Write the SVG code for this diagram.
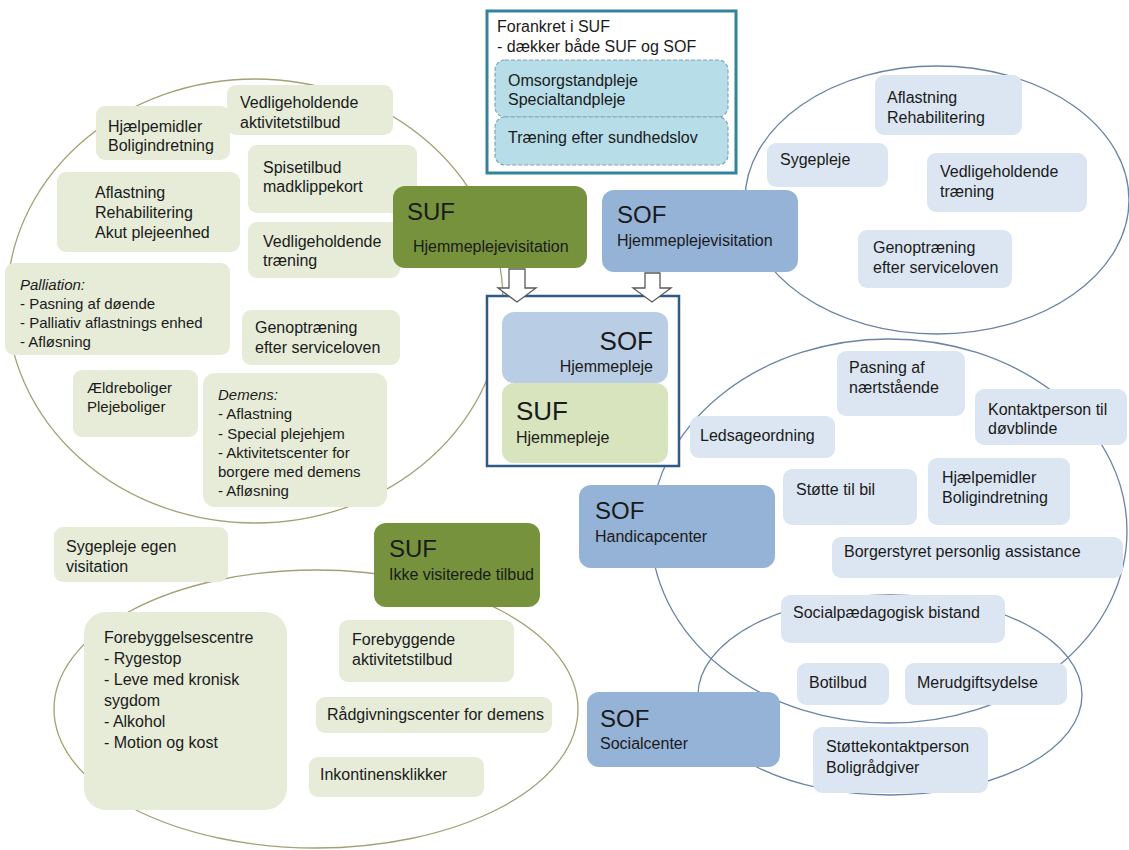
<svg xmlns="http://www.w3.org/2000/svg" width="1129" height="850" viewBox="0 0 1129 850">
<style>
text{font-family:"Liberation Sans",Arial,sans-serif;font-size:16px;fill:#1a1a1a}
.s{font-size:15px}
.big{font-size:24px}
.cbig{font-size:26px}
.g{fill:#e6ecd8}
.b{fill:#dce6f2}
.dg{fill:#76923c}
.db{fill:#95b3d7}
.eg{fill:none;stroke:#a3a175;stroke-width:1.3}
.eb{fill:none;stroke:#6a83a8;stroke-width:1.3}
.dash{fill:#b7dde8;stroke:#7fa6b5;stroke-width:1.2;stroke-dasharray:4 2}
.arr{fill:#fff;stroke:#595959;stroke-width:1.3}
</style>
<rect width="1129" height="850" fill="#fff"/>
<g id="ellipses">
<ellipse class="eg" cx="255" cy="301" rx="248" ry="222"/>
<ellipse class="eg" cx="316" cy="709" rx="262" ry="139"/>
<ellipse class="eb" cx="937" cy="200" rx="192" ry="134"/>
<ellipse class="eb" cx="889" cy="531" rx="238" ry="192"/>
<ellipse class="eb" cx="890" cy="695" rx="192" ry="100"/>
</g>
<g id="forankret">
<rect x="487" y="11" width="249" height="162" fill="#fff" stroke="#31849b" stroke-width="3"/>
<text x="497" y="32">Forankret i SUF</text>
<text x="497" y="52">- dækker både SUF og SOF</text>
<rect class="dash" x="495" y="60" width="233" height="57" rx="10"/>
<text x="508" y="86">Omsorgstandpleje</text>
<text x="508" y="105">Specialtandpleje</text>
<rect class="dash" x="495" y="117" width="233" height="48" rx="10"/>
<text x="508" y="143">Træning efter sundhedslov</text>
</g>
<g id="l1"><rect class="g" x="96" y="106" width="134" height="54" rx="9"/><text x="108" y="132">Hjælpemidler</text><text x="108" y="151">Boligindretning</text></g>
<g id="l2"><rect class="g" x="227" y="85" width="166" height="50" rx="9"/><text x="240" y="108">Vedligeholdende</text><text x="240" y="128">aktivitetstilbud</text></g>
<g id="l3"><rect class="g" x="248" y="145" width="169" height="68" rx="9"/><text x="263" y="173">Spisetilbud</text><text x="263" y="192">madklippekort</text></g>
<g id="l4"><rect class="g" x="57" y="172" width="183" height="80" rx="9"/><text x="95" y="198">Aflastning</text><text x="95" y="218">Rehabilitering</text><text x="95" y="238">Akut plejeenhed</text></g>
<g id="l5"><rect class="g" x="248" y="222" width="152" height="56" rx="9"/><text x="263" y="247">Vedligeholdende</text><text x="263" y="266">træning</text></g>
<g id="l6"><rect class="g" x="5" y="263" width="225" height="92" rx="9"/><text class="s" x="20" y="290" font-style="italic">Palliation:</text><text class="s" x="20" y="309">- Pasning af døende</text><text class="s" x="20" y="328">- Palliativ aflastnings enhed</text><text class="s" x="20" y="347">- Afløsning</text></g>
<g id="l7"><rect class="g" x="242" y="310" width="158" height="55" rx="9"/><text x="255" y="333">Genoptræning</text><text x="255" y="353">efter serviceloven</text></g>
<g id="l8"><rect class="g" x="73" y="370" width="125" height="67" rx="9"/><text class="s" x="87" y="393">Ældreboliger</text><text class="s" x="87" y="412">Plejeboliger</text></g>
<g id="l9"><rect class="g" x="203" y="373" width="184" height="134" rx="12"/><text class="s" x="218" y="400" font-style="italic">Demens:</text><text class="s" x="218" y="419">- Aflastning</text><text class="s" x="218" y="439">- Special plejehjem</text><text class="s" x="218" y="458">- Aktivitetscenter for</text><text class="s" x="218" y="477">borgere med demens</text><text class="s" x="218" y="496">- Afløsning</text></g>
<g id="suf-visitation"><rect class="dg" x="393" y="186" width="194" height="82" rx="12"/><text class="big" x="407" y="220">SUF</text><text x="413" y="252">Hjemmeplejevisitation</text></g>
<g id="sof-visitation"><rect class="db" x="602" y="190" width="196" height="82" rx="12"/><text class="big" x="617" y="223">SOF</text><text x="617" y="246">Hjemmeplejevisitation</text></g>
<g id="r1"><rect class="b" x="875" y="75" width="147" height="60" rx="9"/><text x="887" y="103">Aflastning</text><text x="887" y="123">Rehabilitering</text></g>
<g id="r2"><rect class="b" x="767" y="143" width="121" height="44" rx="9"/><text x="780" y="165">Sygepleje</text></g>
<g id="r3"><rect class="b" x="927" y="153" width="160" height="59" rx="9"/><text x="940" y="177">Vedligeholdende</text><text x="940" y="197">træning</text></g>
<g id="r4"><rect class="b" x="858" y="230" width="154" height="58" rx="9"/><text x="873" y="253">Genoptræning</text><text x="873" y="273">efter serviceloven</text></g>
<g id="hjemmepleje">
<rect x="487" y="296" width="192" height="170" fill="#fff" stroke="#2f5a88" stroke-width="2.5"/>
<rect x="502" y="312" width="166" height="71" rx="12" fill="#b9cde5"/>
<text class="cbig" x="653" y="350" text-anchor="end">SOF</text>
<text x="653" y="372" text-anchor="end">Hjemmepleje</text>
<rect x="502" y="383" width="166" height="80" rx="12" fill="#d7e4bd"/>
<text class="cbig" x="516" y="420">SUF</text>
<text x="516" y="443">Hjemmepleje</text>
</g>
<g id="connectors">
<path class="arr" d="M509,269 H525 V288 H536 L517,302 L498,288 H509 Z"/>
<path class="arr" d="M645,273 H660 V288 H671 L652,302 L633,288 H645 Z"/>
</g>
<g id="h1"><rect class="b" x="837" y="351" width="128" height="65" rx="9"/><text x="849" y="373">Pasning af</text><text x="849" y="393">nærtstående</text></g>
<g id="h2"><rect class="b" x="975" y="389" width="152" height="56" rx="9"/><text x="988" y="415">Kontaktperson til</text><text x="988" y="434">døvblinde</text></g>
<g id="h3"><rect class="b" x="690" y="416" width="145" height="42" rx="9"/><text x="700" y="441">Ledsageordning</text></g>
<g id="h4"><rect class="b" x="783" y="469" width="134" height="56" rx="9"/><text x="796" y="495">Støtte til bil</text></g>
<g id="h5"><rect class="b" x="928" y="458" width="142" height="67" rx="9"/><text x="942" y="483">Hjælpemidler</text><text x="942" y="503">Boligindretning</text></g>
<g id="handicapcenter"><rect class="db" x="579" y="485" width="196" height="83" rx="12"/><text class="big" x="595" y="519">SOF</text><text x="595" y="542">Handicapcenter</text></g>
<g id="h6"><rect class="b" x="832" y="537" width="291" height="41" rx="9"/><text x="844" y="557">Borgerstyret personlig assistance</text></g>
<g id="s1"><rect class="b" x="781" y="595" width="224" height="48" rx="9"/><text x="793" y="618">Socialpædagogisk bistand</text></g>
<g id="s2"><rect class="b" x="797" y="663" width="92" height="42" rx="9"/><text x="809" y="688">Botilbud</text></g>
<g id="s3"><rect class="b" x="905" y="663" width="162" height="42" rx="9"/><text x="917" y="688">Merudgiftsydelse</text></g>
<g id="socialcenter"><rect class="db" x="587" y="692" width="193" height="75" rx="12"/><text class="big" x="600" y="727">SOF</text><text x="600" y="749">Socialcenter</text></g>
<g id="s4"><rect class="b" x="813" y="727" width="175" height="66" rx="9"/><text x="826" y="752">Støttekontaktperson</text><text x="826" y="773">Boligrådgiver</text></g>
<g id="b1"><rect class="g" x="54" y="527" width="174" height="55" rx="9"/><text x="66" y="552">Sygepleje egen</text><text x="66" y="572">visitation</text></g>
<g id="ikke-visiterede"><rect class="dg" x="374" y="523" width="166" height="84" rx="12"/><text class="big" x="389" y="557">SUF</text><text x="389" y="580">Ikke visiterede tilbud</text></g>
<g id="b2"><rect class="g" x="84" y="612" width="203" height="198" rx="22"/><text x="104" y="643">Forebyggelsescentre</text><text x="104" y="664">- Rygestop</text><text x="104" y="685">- Leve med kronisk</text><text x="104" y="706">sygdom</text><text x="104" y="727">- Alkohol</text><text x="104" y="748">- Motion og kost</text></g>
<g id="b3"><rect class="g" x="339" y="620" width="175" height="62" rx="9"/><text x="352" y="645">Forebyggende</text><text x="352" y="665">aktivitetstilbud</text></g>
<g id="b4"><rect class="g" x="316" y="697" width="236" height="36" rx="9"/><text x="327" y="720">Rådgivningscenter for demens</text></g>
<g id="b5"><rect class="g" x="309" y="757" width="175" height="40" rx="9"/><text x="320" y="780">Inkontinensklikker</text></g>
</svg>
